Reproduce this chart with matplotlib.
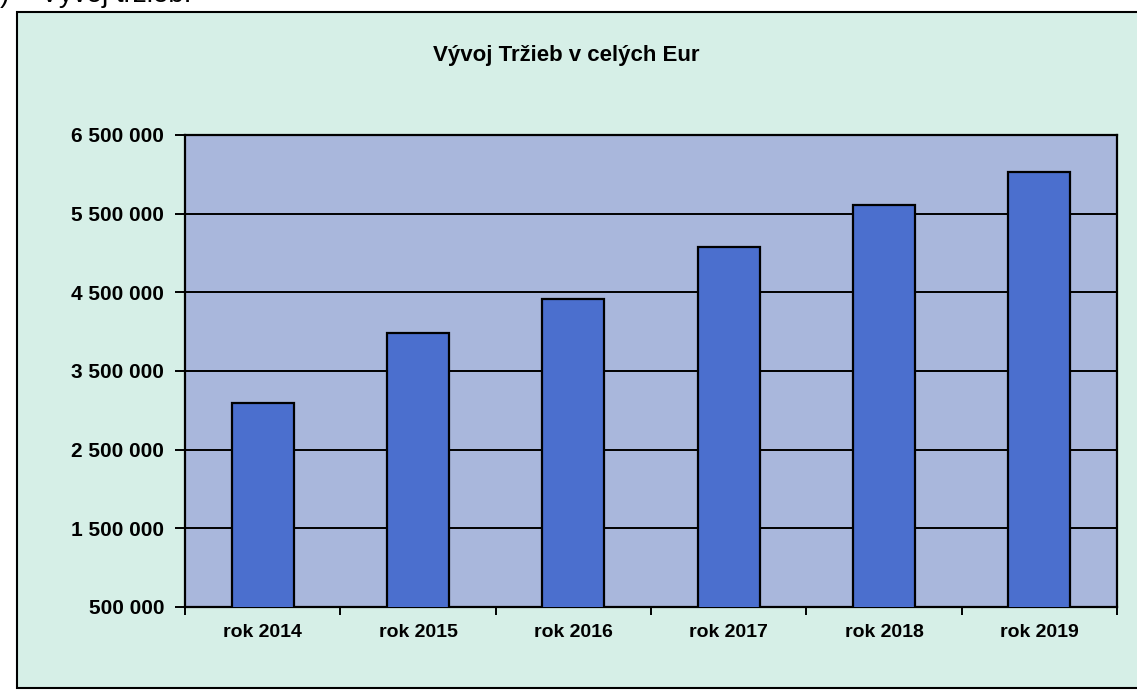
import matplotlib
matplotlib.use("Agg")
import matplotlib.pyplot as plt
from matplotlib.patches import Rectangle
from matplotlib.ticker import FuncFormatter, FixedLocator

plt.rcParams["font.family"] = ["Liberation Sans", "DejaVu Sans"]

# Data
years = ["rok 2014", "rok 2015", "rok 2016", "rok 2017", "rok 2018", "rok 2019"]
revenue = [3090000, 3980000, 4410000, 5070000, 5610000, 6030000]
y_ticks = [500000, 1500000, 2500000, 3500000, 4500000, 5500000, 6500000]

outer_bg = "#d6efe7"
plot_bg = "#a9b7dc"
bar_color = "#4b6fce"


def fmt_thousands(v, pos):
    return "{:,.0f}".format(v).replace(",", " ")


fig = plt.figure(figsize=(11.37, 6.93), dpi=100)
fig.patch.set_facecolor("white")

# chart frame (scanned page, frame runs off right edge)
frame = Rectangle((17 / 1137, 5 / 693), 1.2, (681 - 5) / 693,
                  transform=fig.transFigure, facecolor=outer_bg,
                  edgecolor="black", linewidth=1.5, zorder=-5)
fig.patches.append(frame)

# cut off heading from the page above the chart
fig.text(0.0, 1 - 2 / 693, ")    Vývoj tržieb:", fontsize=20, va="baseline",
         ha="left", color="black")

ax = fig.add_axes([185 / 1137, 86 / 693, 932 / 1137, 472 / 693])
ax.set_facecolor(plot_bg)

x = list(range(len(years)))
ax.bar(x, revenue, width=0.4, color=bar_color, edgecolor="black",
       linewidth=1.6, zorder=3)

ax.set_ylim(500000, 6500000)
ax.set_xlim(-0.5, len(years) - 0.5)
ax.set_yticks(y_ticks)
ax.yaxis.set_major_formatter(FuncFormatter(fmt_thousands))
ax.grid(axis="y", color="black", linewidth=1.4, zorder=1)

# category boundaries for tick marks, labels centered on bars
ax.xaxis.set_major_locator(FixedLocator([i - 0.5 for i in range(len(years) + 1)]))
ax.set_xticklabels([])
ax.set_xticks(x, minor=True)
ax.set_xticklabels(years, minor=True, fontsize=14, fontweight="bold")
ax.tick_params(axis="x", which="minor", length=0, pad=12)
ax.tick_params(axis="x", which="major", length=6, width=1.4)
ax.tick_params(axis="y", length=7, width=1.4, pad=8, labelsize=15)
for lbl in ax.get_yticklabels():
    lbl.set_fontweight("bold")

for s in ax.spines.values():
    s.set_linewidth(1.6)
    s.set_color("black")

fig.text(0.498, 1 - 55 / 693, "Vývoj Tržieb v celých Eur", fontsize=16,
         fontweight="bold", ha="center", va="center")

fig.savefig("out.png", dpi=100, facecolor=fig.get_facecolor())
